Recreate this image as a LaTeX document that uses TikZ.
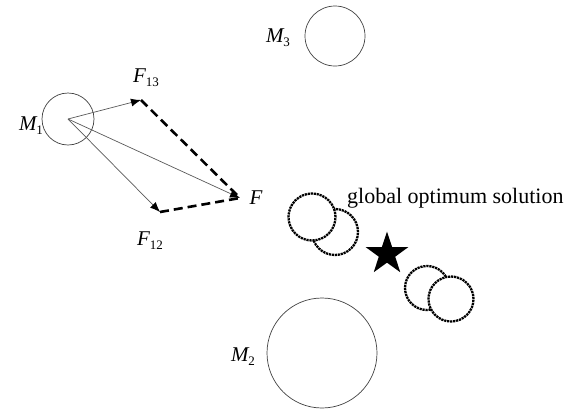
\documentclass[tikz,border=0pt]{standalone}
\usepackage{fontspec}
\setmainfont{Liberation Serif}
\usetikzlibrary{shapes.geometric,arrows.meta}
\newcommand\symlbl[2]{{\fontsize{21}{24}\selectfont\itshape #1}{\fontsize{13}{15}\selectfont\raisebox{-0.3em}{#2}}}
\tikzset{
  mass/.style={circle, draw=black!75, line width=0.7pt, inner sep=0pt},
  swarm/.style={circle, draw=black, fill=white, line width=2.3pt, dash pattern=on 2.2pt off 0.8pt, inner sep=0pt},
  force/.style={draw=black!65, line width=0.7pt, -{Latex[length=10pt,width=8pt,black]}},
  resultant/.style={draw=black, line width=2.6pt, dash pattern=on 9pt off 5pt},
  lab/.style={inner sep=0pt, text=black},
  beststar/.style={star, star points=5, star point ratio=2.6, fill=black, minimum size=45pt, inner sep=0pt}
}
\begin{document}
\begin{tikzpicture}[x=1pt,y=-1pt]
\useasboundingbox (0,0) rectangle (568,410);
% masses
\node[mass, minimum size=52pt] (m1) at (68,119) {};
\node[mass, minimum size=60pt] (m3) at (335,36) {};
\node[mass, minimum size=110pt] (m2) at (322,353) {};
% labels of masses
\node[lab] (lm1) at (31,126) {\symlbl{M}{1}};
\node[lab] (lm3) at (278,38) {\symlbl{M}{3}};
\node[lab] (lm2) at (243,357) {\symlbl{M}{2}};
% force vectors
\coordinate (f13) at (141,100);
\coordinate (f12) at (160,212);
\coordinate (f) at (240,198);
\draw[resultant] (f13) -- (f);
\draw[resultant] (f12) -- (f);
\draw[force] (m1.center) -- (f13);
\draw[force] (m1.center) -- (f12);
\draw[force] (m1.center) -- (f);
\node[lab] (lf13) at (146,78) {\symlbl{F}{13}};
\node[lab] (lf12) at (150,241) {\symlbl{F}{12}};
\node[lab] (lf) at (256,200) {\symlbl{F}{}};
% swarm particles
\node[swarm, minimum size=46pt] (p2) at (335,232) {};
\node[swarm, minimum size=47pt] (p1) at (312,217) {};
\node[swarm, minimum size=44pt] (p3) at (427,288) {};
\node[swarm, minimum size=45pt] (p4) at (451,299) {};
\node[beststar] (opt) at (387,254) {};
\node[lab, anchor=base west, font=\fontsize{22}{26}\selectfont] (glab) at (347,203) {global optimum solution};
\end{tikzpicture}
\end{document}
